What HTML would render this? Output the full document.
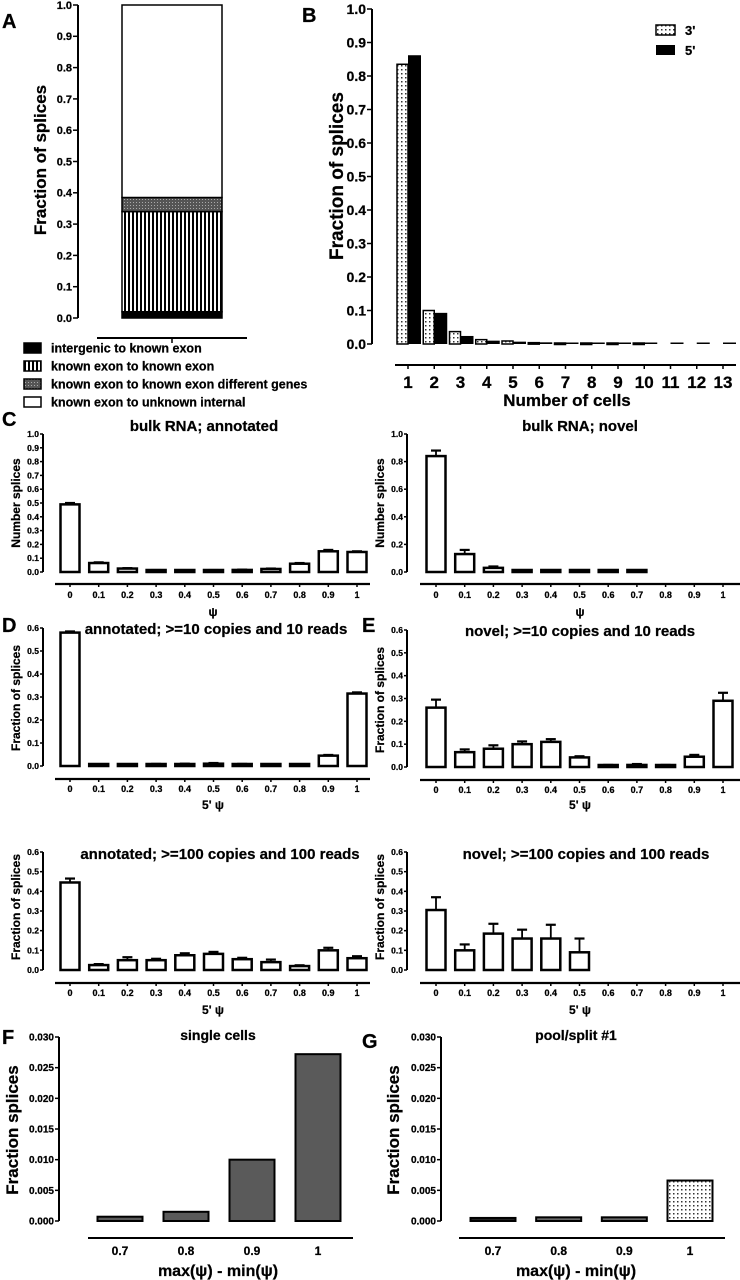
<!DOCTYPE html>
<html><head><meta charset="utf-8">
<style>
html,body{margin:0;padding:0;background:#fff;}
svg{display:block;font-family:"Liberation Sans",Arial,sans-serif;font-weight:bold;}
svg text{stroke:#000;stroke-width:0.25px;}
</style></head>
<body>
<svg id="fig" width="740" height="1280" viewBox="0 0 740 1280" xmlns="http://www.w3.org/2000/svg">
<defs>
<pattern id="dots" width="4" height="4" patternUnits="userSpaceOnUse"><rect width="4" height="4" fill="#fff"/><rect x="1" y="1" width="1.5" height="1.5" fill="#333"/></pattern>
<pattern id="vstripe" width="4" height="4" patternUnits="userSpaceOnUse"><rect width="4" height="4" fill="#fff"/><rect x="0" y="0" width="2" height="4" fill="#000"/></pattern>
<pattern id="gdots" width="3" height="3" patternUnits="userSpaceOnUse"><rect width="3" height="3" fill="#555"/><rect x="1" y="1" width="1" height="1" fill="#aaa"/></pattern>
</defs>
<g id="root"></g>
</svg>
<script>
// Panel A data
const aLabels = ["intergenic to known exon","known exon to known exon","known exon to known exon different genes","known exon to unknown internal"];
const aValues = [0.02, 0.32, 0.045, 0.615];
const aFills = ["#000","url(#vstripe)","url(#gdots)","#fff"];
const aTicks = [0,0.1,0.2,0.3,0.4,0.5,0.6,0.7,0.8,0.9,1.0];
// Panel B data
const bCats = ["1","2","3","4","5","6","7","8","9","10","11","12","13"];
const b3 = [0.835,0.10,0.037,0.013,0.009,0.004,0.003,0.002,0.002,0.002,null,null,null];
const b5 = [0.862,0.093,0.024,0.010,0.007,0.005,0.003,0.003,0.003,0.003,0.003,0.003,0.003];
const bTicks = [0,0.1,0.2,0.3,0.4,0.5,0.6,0.7,0.8,0.9,1.0];
// Psi categories
const psiCats = ["0","0.1","0.2","0.3","0.4","0.5","0.6","0.7","0.8","0.9","1"];
const cLeftVals = [0.49,0.065,0.025,0.012,0.008,0.012,0.015,0.022,0.06,0.15,0.145];
const cLeftErr  = [0.01,0.005,0.003,0.002,0.001,0.002,0.002,0.003,0.005,0.01,0.005];
const cRightVals = [0.84,0.13,0.03,0.008,0.005,0.003,0.003,0.003,null,null,null];
const cRightErr  = [0.04,0.03,0.01,0.002,0.001,0,0,0,null,null,null];
const d10Vals = [0.58,0.005,0.005,0.007,0.008,0.01,0.007,0.005,0.004,0.045,0.315];
const d10Err  = [0.005,0.001,0.001,0.002,0.002,0.003,0.002,0.001,0.001,0.003,0.005];
const e10Vals = [0.26,0.065,0.08,0.10,0.11,0.042,0.006,0.009,0.006,0.045,0.29];
const e10Err  = [0.035,0.012,0.015,0.012,0.012,0.005,0.003,0.004,0.003,0.008,0.035];
const d100Vals = [0.445,0.025,0.05,0.05,0.075,0.082,0.055,0.04,0.02,0.10,0.06];
const d100Err  = [0.02,0.005,0.015,0.007,0.01,0.01,0.007,0.013,0.004,0.013,0.01];
const e100Vals = [0.305,0.10,0.185,0.16,0.16,0.09,null,null,null,null,null];
const e100Err  = [0.065,0.03,0.05,0.045,0.07,0.07,null,null,null,null,null];
const tick1 = [0,0.1,0.2,0.3,0.4,0.5,0.6,0.7,0.8,0.9,1.0];
const tick1b = [0,0.2,0.4,0.6,0.8,1.0];
const tick06 = [0,0.1,0.2,0.3,0.4,0.5,0.6];
// F/G data
const fgCats = ["0.7","0.8","0.9","1"];
const fVals = [0.0007,0.0015,0.010,0.0272];
const gVals = [0.0005,0.0006,0.0006,0.0066];
const fgTicks = [0,0.005,0.010,0.015,0.020,0.025,0.030];

const NS="http://www.w3.org/2000/svg";
const root=document.getElementById('root');
function mk(tag,attrs,parent,text){const e=document.createElementNS(NS,tag);for(const k in attrs)e.setAttribute(k,attrs[k]);if(text!==undefined)e.textContent=text;(parent||root).appendChild(e);return e;}
function txt(x,y,s,size,anchor,name,parent,rot){const t=mk('text',{x:x,y:y,'font-size':size,'text-anchor':anchor||'middle'},parent,s);


if(rot)t.setAttribute('transform','rotate(-90 '+x+' '+y+')');return t;}

function yAxis(g,ax,yTop,yBot,max,ticks,fmt,fs,tl){
  const sc=v=>yBot-(v/max)*(yBot-yTop);
  const l=mk('line',{x1:ax,y1:yTop,x2:ax,y2:yBot,stroke:'#000','stroke-width':2},g);
  
  
  ticks.forEach(t=>{const y=sc(t);mk('line',{x1:ax-tl,y1:y,x2:ax,y2:y,stroke:'#000','stroke-width':1.5},g);
    txt(ax-tl-1,y+fs*0.35,fmt(t),fs,'end','y-tick-label',g);});
  return sc;
}

function psiPanel(name,o){
  const g=mk('g',{});
  
  
  const sc=yAxis(g,o.ax,o.yTop,o.yBot,o.max,o.ticks,t=>t.toFixed(1),8.5,3);
  const step=(o.x1-o.x0)/(o.cats.length-1);
  const xs=i=>o.x0+i*step;
  o.vals.forEach((v,i)=>{ if(v===null)return;
    const x=xs(i), y=sc(v), bw=o.bw;
    const e=o.err[i]||0;
    if(e>0){mk('line',{x1:x,y1:y,x2:x,y2:sc(v+e),stroke:'#000','stroke-width':1.8},g);
      mk('line',{x1:x-5,y1:sc(v+e),x2:x+5,y2:sc(v+e),stroke:'#000','stroke-width':2.2},g);}
    const r=mk('rect',{x:x-bw/2,y:Math.min(y,o.yBot-2),width:bw,height:Math.max(o.yBot-y,2),fill:o.fill||'#fff',stroke:'#000','stroke-width':2.5},g);
    
    
  });
  const xl=mk('line',{x1:o.lx0,y1:o.axY,x2:o.lx1,y2:o.axY,stroke:'#000','stroke-width':2.2},g);
  
  
  o.cats.forEach((c,i)=>{mk('line',{x1:xs(i),y1:o.axY,x2:xs(i),y2:o.axY+3,stroke:'#000','stroke-width':1.5},g);
    txt(xs(i),o.axY+o.tly,c,o.tfs||9,'middle','x-tick-label',g);});
  txt(o.tx,o.ty,o.title,o.titleFs||15,'middle','chart-title',g);
  txt(o.ytx,o.yty,o.ytitle,o.ytFs||12,'middle','y-axis-title',g,true);
  txt(o.xtx,o.xty,o.xtitle,o.xtFs||12,'middle','x-axis-title',g);
  return g;
}

// Panel labels
[["A",2,28],["B",302,22],["C",2,426],["D",2,632],["E",362,632],["F",2,1044],["G",362,1048]].forEach(p=>{
  const t=txt(p[1],p[2],p[0],20,'start','panel-label-'+p[0].toLowerCase());});

// Panel A
(function(){
  const g=mk('g',{});
  
  
  const sc=yAxis(g,78,5,318,1,aTicks,t=>t.toFixed(1),11,5);
  let cum=0;
  aValues.forEach((v,i)=>{const y0=sc(cum),y1=sc(cum+v);
    const r=mk('rect',{x:122,y:y1,width:100,height:y0-y1,fill:aFills[i],stroke:'#000','stroke-width':1.5},g);
    
    
    cum+=v;});
  mk('line',{x1:97,y1:338,x2:247,y2:338,stroke:'#000','stroke-width':2},g);
  mk('line',{x1:172,y1:338,x2:172,y2:343,stroke:'#000','stroke-width':1.5},g);
  txt(46,160,"Fraction of splices",17,'middle','y-axis-title',g,true);
  aLabels.forEach((l,i)=>{const y=348+i*18;
    const sw=mk('rect',{x:24,y:y-5,width:17,height:10,fill:aFills[i],stroke:'#000','stroke-width':1.5},g);
    
    
    txt(51,y+4.5,l,12.5,'start','legend-entry',g);});
})();

// Panel B
(function(){
  const g=mk('g',{});
  
  
  const sc=yAxis(g,372,9,344,1,bTicks,t=>t.toFixed(1),14,5);
  const step=(723-408)/12;
  bCats.forEach((c,i)=>{const cx=408+i*step;
    if(b3[i]!==null){const y=sc(b3[i]);const r=mk('rect',{x:cx-11,y:Math.min(y,343),width:11,height:Math.max(344-y,1.5),fill:'url(#dots)',stroke:'#000','stroke-width':1.5},g);
      
      }
    if(b5[i]!==null){const y=sc(b5[i]);const r=mk('rect',{x:cx,y:Math.min(y,342.5),width:13,height:Math.max(344-y,1.5),fill:'#000'},g);
      
      }
    mk('line',{x1:cx,y1:365,x2:cx,y2:369,stroke:'#000','stroke-width':1.5},g);
    txt(cx,388,c,17,'middle','x-tick-label',g);
  });
  mk('line',{x1:395,y1:365,x2:736,y2:365,stroke:'#000','stroke-width':2},g);
  txt(567,406,"Number of cells",17,'middle','x-axis-title',g);
  txt(343,176,"Fraction of splices",19,'middle','y-axis-title',g,true);
  const l1=mk('rect',{x:656,y:25,width:19,height:10,fill:'url(#dots)',stroke:'#000','stroke-width':1.5},g);
  
  
  txt(685,35,"3'",13,'start','legend-entry',g);
  const l2=mk('rect',{x:656,y:45,width:19,height:10,fill:'#000'},g);
  
  
  txt(685,55,"5'",13,'start','legend-entry',g);
})();

const L={ax:43,x0:70,x1:357,lx0:55,lx1:370,ytx:20,bw:19};
const R={ax:407,x0:436,x1:723,lx0:420,lx1:740,ytx:384,bw:19};
psiPanel('panel-c-annotated',Object.assign({},L,{yTop:434,yBot:572,max:1,ticks:tick1,cats:psiCats,vals:cLeftVals,err:cLeftErr,axY:584,tly:14,tx:204,ty:431,title:"bulk RNA; annotated",yty:503,ytitle:"Number splices",xtx:213,xty:616,xtitle:"ψ"}));
psiPanel('panel-c-novel',Object.assign({},R,{yTop:434,yBot:572,max:1,ticks:tick1b,cats:psiCats,vals:cRightVals,err:cRightErr,axY:584,tly:14,tx:580,ty:431,title:"bulk RNA; novel",yty:503,ytitle:"Number splices",xtx:580,xty:616,xtitle:"ψ"}));
psiPanel('panel-d-10',Object.assign({},L,{yTop:628,yBot:766,max:0.6,ticks:tick06,cats:psiCats,vals:d10Vals,err:d10Err,axY:779,tly:13,tx:216,ty:634,title:"annotated; >=10 copies and 10 reads",yty:698,ytitle:"Fraction of splices",xtx:213,xty:809,xtitle:"5' ψ"}));
psiPanel('panel-e-10',Object.assign({},R,{yTop:630,yBot:767,max:0.6,ticks:tick06,cats:psiCats,vals:e10Vals,err:e10Err,axY:780,tly:13,tx:580,ty:636,title:"novel; >=10 copies and 10 reads",yty:700,ytitle:"Fraction of splices",xtx:580,xty:809,xtitle:"5' ψ"}));
psiPanel('panel-d-100',Object.assign({},L,{yTop:852,yBot:970,max:0.6,ticks:tick06,cats:psiCats,vals:d100Vals,err:d100Err,axY:983,tly:13,tx:220,ty:859,title:"annotated; >=100 copies and 100 reads",yty:907,ytitle:"Fraction of splices",xtx:213,xty:1014,xtitle:"5' ψ"}));
psiPanel('panel-e-100',Object.assign({},R,{yTop:852,yBot:970,max:0.6,ticks:tick06,cats:psiCats,vals:e100Vals,err:e100Err,axY:983,tly:13,tx:586,ty:859,title:"novel; >=100 copies and 100 reads",yty:907,ytitle:"Fraction of splices",xtx:580,xty:1014,xtitle:"5' ψ"}));

function fgPanel(name,o){
  const g=mk('g',{});
  
  
  const sc=yAxis(g,o.ax,1037,1221,0.03,fgTicks,t=>t.toFixed(3),10,4);
  const step=(o.x1-o.x0)/3;
  fgCats.forEach((c,i)=>{const cx=o.x0+i*step;const y=sc(o.vals[i]);
    const r=mk('rect',{x:cx-22.5,y:Math.min(y,1218),width:45,height:Math.max(1221-y,3),fill:o.fills[i],stroke:'#000','stroke-width':2},g);
    
    
    txt(cx,1255,c,12,'middle','x-tick-label',g);});
  mk('line',{x1:o.lx0,y1:1238,x2:o.lx1,y2:1238,stroke:'#000','stroke-width':2},g);
  txt(o.tx,1040,o.title,14,'middle','chart-title',g);
  txt(o.tx,1276,"max(ψ) - min(ψ)",16,'middle','x-axis-title',g);
  txt(o.ytx,1130,"Fraction splices",17,'middle','y-axis-title',g,true);
}
fgPanel('panel-f',{ax:59,x0:120,x1:318,lx0:88,lx1:353,tx:218,ytx:18,vals:fVals,title:"single cells",fills:["#5a5a5a","#5a5a5a","#5a5a5a","#5a5a5a"]});
fgPanel('panel-g',{ax:441,x0:493,x1:690,lx0:459,lx1:725,tx:576,ytx:399,vals:gVals,title:"pool/split #1",fills:["#222","#666","#666","url(#dots)"]});
</script>
</body></html>
